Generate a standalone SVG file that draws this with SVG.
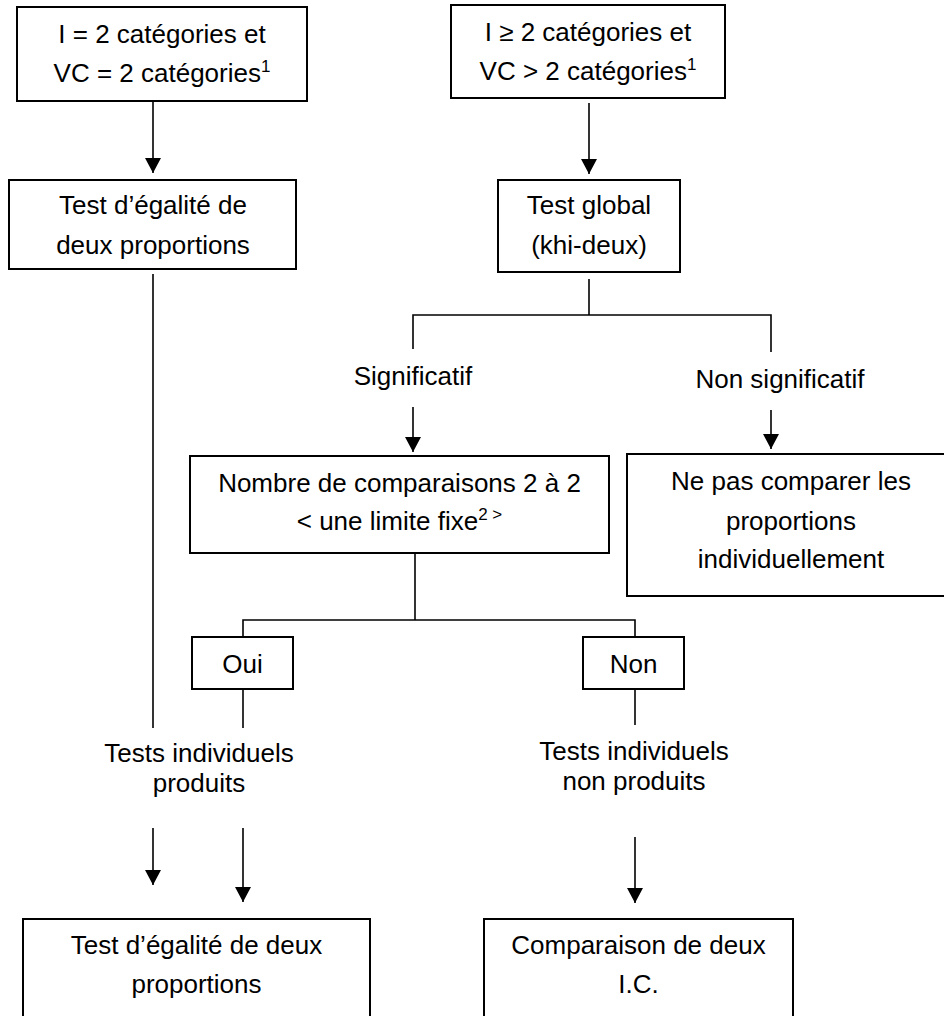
<svg xmlns="http://www.w3.org/2000/svg" width="944" height="1016" viewBox="0 0 944 1016">
<style>
.box{fill:#fff;stroke:#000;stroke-width:2}
.t{font-family:"Liberation Sans",Arial,sans-serif;font-size:26px;fill:#000;text-anchor:middle}
.c{stroke:#000;stroke-width:1.6;fill:none}
.sup{font-size:17px}
</style>
<defs>
<marker id="ah" markerUnits="userSpaceOnUse" markerWidth="16" markerHeight="16" viewBox="0 0 16 16" refX="15" refY="8" orient="auto">
<path d="M0,0 L15,8 L0,16 Z" fill="#000"/>
</marker>
</defs>
<rect width="944" height="1016" fill="#fff"/>
<g id="connectors">
<line class="c" x1="153" y1="101" x2="153" y2="173" marker-end="url(#ah)"/>
<line class="c" x1="153" y1="274" x2="153" y2="728"/>
<line class="c" x1="153" y1="828" x2="153" y2="885" marker-end="url(#ah)"/>
<line class="c" x1="589" y1="103" x2="589" y2="174" marker-end="url(#ah)"/>
<line class="c" x1="589" y1="279" x2="589" y2="315"/>
<polyline class="c" points="413,349 413,315 771,315 771,352"/>
<line class="c" x1="413" y1="407" x2="413" y2="452" marker-end="url(#ah)"/>
<line class="c" x1="771" y1="410" x2="771" y2="449" marker-end="url(#ah)"/>
<line class="c" x1="415" y1="553" x2="415" y2="620"/>
<polyline class="c" points="243,637 243,620 635,620 635,637"/>
<line class="c" x1="243" y1="689" x2="243" y2="728"/>
<line class="c" x1="243" y1="828" x2="243" y2="902" marker-end="url(#ah)"/>
<line class="c" x1="635" y1="689" x2="635" y2="725"/>
<line class="c" x1="635" y1="837" x2="635" y2="903" marker-end="url(#ah)"/>
</g>
<g id="n1"><rect class="box" x="17" y="7" width="290" height="94"/>
<text class="t" x="162" y="43">I = 2 catégories et</text>
<text class="t" x="162" y="82">VC = 2 catégories<tspan class="sup" dy="-10">1</tspan></text></g>
<g id="n2"><rect class="box" x="9" y="180" width="287" height="89"/>
<text class="t" x="153" y="214">Test d’égalité de</text>
<text class="t" x="153" y="254">deux proportions</text></g>
<g id="n3"><rect class="box" x="451" y="5" width="274" height="93"/>
<text class="t" x="588" y="41">I ≥ 2 catégories et</text>
<text class="t" x="588" y="80">VC &gt; 2 catégories<tspan class="sup" dy="-10">1</tspan></text></g>
<g id="n4"><rect class="box" x="498" y="180" width="182" height="92"/>
<text class="t" x="589" y="214">Test global</text>
<text class="t" x="589" y="254">(khi-deux)</text></g>
<g id="l1"><text class="t" x="413" y="385">Significatif</text></g>
<g id="l2"><text class="t" x="780" y="388">Non significatif</text></g>
<g id="n5"><rect class="box" x="190" y="456" width="419" height="97"/>
<text class="t" x="399.5" y="492">Nombre de comparaisons 2 à 2</text>
<text class="t" x="399.5" y="530">&lt; une limite fixe<tspan class="sup" dy="-10">2 &gt;</tspan></text></g>
<g id="n6"><rect class="box" x="627" y="454" width="330" height="142"/>
<text class="t" x="791" y="490">Ne pas comparer les</text>
<text class="t" x="791" y="530">proportions</text>
<text class="t" x="791" y="568">individuellement</text></g>
<g id="oui"><rect class="box" x="192" y="637" width="101" height="52"/>
<text class="t" x="242.5" y="673">Oui</text></g>
<g id="non"><rect class="box" x="583" y="637" width="101" height="52"/>
<text class="t" x="633.5" y="673">Non</text></g>
<g id="l3"><text class="t" x="199" y="762">Tests individuels</text>
<text class="t" x="199" y="792">produits</text></g>
<g id="l4"><text class="t" x="634" y="760">Tests individuels</text>
<text class="t" x="634" y="790">non produits</text></g>
<g id="n7"><rect class="box" x="23" y="919" width="347" height="120"/>
<text class="t" x="196.5" y="954">Test d’égalité de deux</text>
<text class="t" x="196.5" y="993">proportions</text></g>
<g id="n8"><rect class="box" x="484" y="919" width="309" height="120"/>
<text class="t" x="638.5" y="954">Comparaison de deux</text>
<text class="t" x="638.5" y="993">I.C.</text></g>
</svg>
